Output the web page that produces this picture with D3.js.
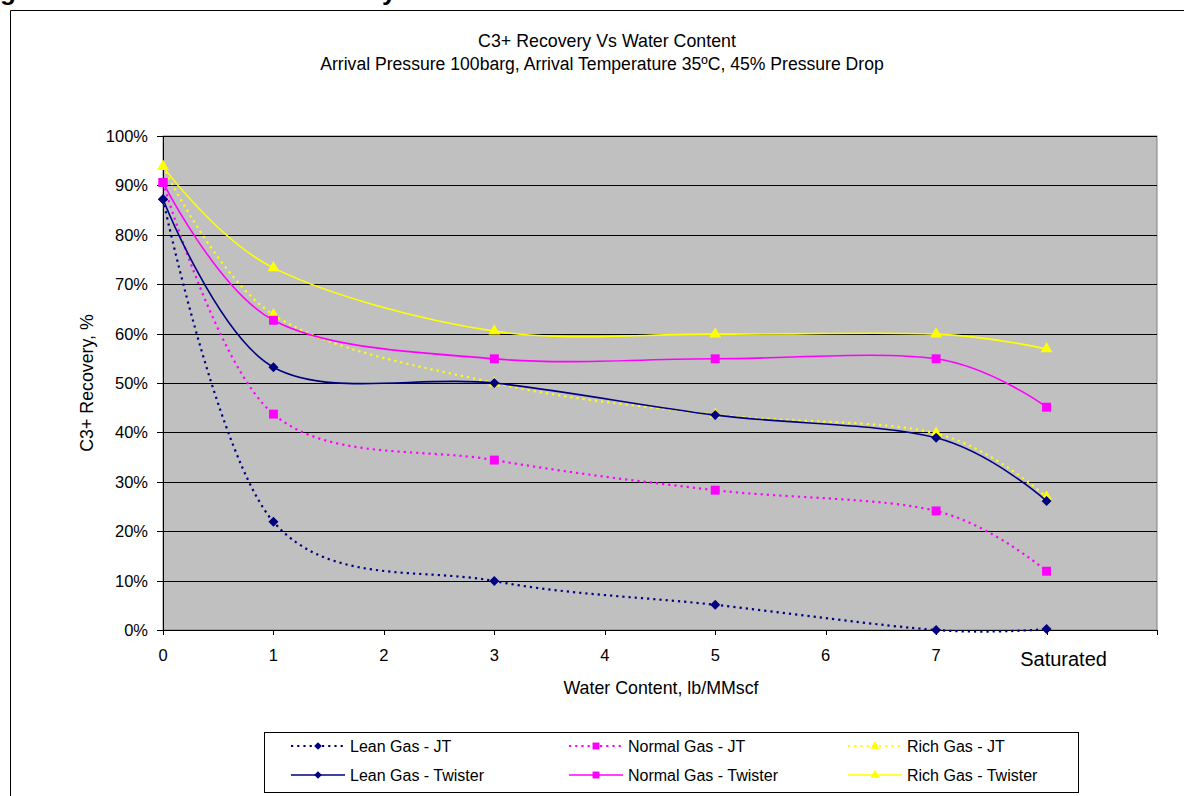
<!DOCTYPE html>
<html>
<head>
<meta charset="utf-8">
<script src="https://cdn.jsdelivr.net/npm/d3@7"></script>
<style>
    body { margin: 0; background: #fff; }
    svg { display: block; font-family: Arial, "Liberation Sans", sans-serif; }
    .grid line { stroke: #000; stroke-width: 1; }
    .ticklabel { font-size: 16.5px; fill: #000; }
</style>
</head>
<body>
<svg id="chart" width="1184" height="796"></svg>
<script>
    // x positions on the category axis (Saturated sits at 8)
    const xValues = [0, 1, 3, 5, 7, 8];
    const xTickLabels = ["0", "1", "2", "3", "4", "5", "6", "7", "Saturated"];
    const yTicks = [0, 10, 20, 30, 40, 50, 60, 70, 80, 90, 100];

    // C3+ recovery, %
    const leanJT = [87.2, 21.9, 9.9, 5.1, 0.0, 0.2];
    const normalJT = [90.6, 43.7, 34.4, 28.3, 24.1, 11.9];
    const richJT = [93.8, 63.8, 50.0, 43.6, 39.8, 26.9];
    const leanTwister = [87.2, 53.2, 50.0, 43.5, 38.9, 26.1];
    const normalTwister = [90.6, 62.7, 54.9, 54.9, 54.9, 45.1];
    const richTwister = [93.8, 73.3, 60.5, 59.9, 59.9, 56.9];

    const seriesNames = [
        "Lean Gas - JT", "Normal Gas - JT", "Rich Gas - JT",
        "Lean Gas - Twister", "Normal Gas - Twister", "Rich Gas - Twister"
    ];

    // Excel style diamond: a square turned 45 degrees
    const excelDiamond = {
        draw(context, size) {
            const r = Math.sqrt(size / 2);
            context.moveTo(0, -r);
            context.lineTo(r, 0);
            context.lineTo(0, r);
            context.lineTo(-r, 0);
            context.closePath();
        }
    };

    const navy = "#000080", magenta = "#FF00FF", yellow = "#FFFF00";
    const series = [
        { name: seriesNames[0], values: leanJT, color: navy, dotted: true, symbol: excelDiamond, size: 50 },
        { name: seriesNames[1], values: normalJT, color: magenta, dotted: true, symbol: d3.symbolSquare, size: 80 },
        { name: seriesNames[2], values: richJT, color: yellow, dotted: true, symbol: d3.symbolTriangle, size: 60 },
        { name: seriesNames[3], values: leanTwister, color: navy, dotted: false, symbol: excelDiamond, size: 50 },
        { name: seriesNames[4], values: normalTwister, color: magenta, dotted: false, symbol: d3.symbolSquare, size: 80 },
        { name: seriesNames[5], values: richTwister, color: yellow, dotted: false, symbol: d3.symbolTriangle, size: 60 }
    ];

    const svg = d3.select("#chart");
    const plotLeft = 163, plotRight = 1157, plotTop = 136, plotBottom = 630;

    const x = d3.scaleLinear().domain([0, 9]).range([plotLeft, plotRight]);
    const y = d3.scaleLinear().domain([0, 100]).range([plotBottom, plotTop]);

    // heading of the page above the chart, cut off by the crop
    svg.append("text").attr("x", 0).attr("y", 0)
        .attr("font-size", 26).attr("font-weight", "bold").text("g");
    svg.append("text").attr("x", 382).attr("y", 0)
        .attr("font-size", 26).attr("font-weight", "bold").text("y");

    // outer chart frame
    svg.append("path")
        .attr("d", "M10.5,796 V10.5 H1184")
        .attr("fill", "none").attr("stroke", "#000").attr("stroke-width", 1);

    // titles
    svg.append("text").attr("x", 607).attr("y", 47)
        .attr("text-anchor", "middle").attr("font-size", 17.8)
        .text("C3+ Recovery Vs Water Content");
    svg.append("text").attr("x", 602).attr("y", 70)
        .attr("text-anchor", "middle").attr("font-size", 17.6)
        .text("Arrival Pressure 100barg, Arrival Temperature 35ºC, 45% Pressure Drop");

    // plot area
    svg.append("rect")
        .attr("x", plotLeft).attr("y", plotTop)
        .attr("width", plotRight - plotLeft).attr("height", plotBottom - plotTop)
        .attr("fill", "#C0C0C0").attr("stroke", "#808080");

    svg.append("g").attr("class", "grid")
        .selectAll("line").data(yTicks).join("line")
        .attr("x1", plotLeft - 6).attr("x2", plotRight)
        .attr("y1", d => Math.round(y(d)) + 0.5)
        .attr("y2", d => Math.round(y(d)) + 0.5);

    svg.append("g").selectAll("text").data(yTicks).join("text")
        .attr("class", "ticklabel")
        .attr("x", 148).attr("y", d => y(d) + 6)
        .attr("text-anchor", "end")
        .text(d => d + "%");

    // axes lines
    svg.append("line").attr("x1", plotLeft + 0.5).attr("x2", plotLeft + 0.5)
        .attr("y1", plotTop).attr("y2", plotBottom).attr("stroke", "#000");
    svg.append("g").selectAll("line").data(d3.range(0, 10)).join("line")
        .attr("x1", d => Math.round(x(d)) + 0.5).attr("x2", d => Math.round(x(d)) + 0.5)
        .attr("y1", plotBottom).attr("y2", plotBottom + 5).attr("stroke", "#000");

    svg.append("g").selectAll("text").data(xTickLabels).join("text")
        .attr("x", (d, i) => i === 8 ? x(i) + 17 : x(i))
        .attr("y", (d, i) => i === 8 ? 666 : 661)
        .attr("text-anchor", "middle")
        .attr("font-size", (d, i) => i === 8 ? 20 : 16.5)
        .text(d => d);

    // axis titles
    svg.append("text").attr("x", 661).attr("y", 694)
        .attr("text-anchor", "middle").attr("font-size", 17.8)
        .text("Water Content, lb/MMscf");
    svg.append("text")
        .attr("transform", "translate(93,383) rotate(-90)")
        .attr("text-anchor", "middle").attr("font-size", 17.8)
        .text("C3+ Recovery, %");

    // series
    const line = d3.line()
        .x((d, i) => x(xValues[i]))
        .y(d => y(d))
        .curve(d3.curveCardinal.tension(0));

    const plot = svg.append("g");
    series.forEach(s => {
        plot.append("path")
            .attr("d", line(s.values))
            .attr("fill", "none")
            .attr("stroke", s.color)
            .attr("stroke-width", s.dotted ? 2.2 : 1.6)
            .attr("stroke-dasharray", s.dotted ? "2.2,4" : null);
        plot.selectAll(null).data(s.values).join("path")
            .attr("transform", (d, i) => `translate(${x(xValues[i])},${y(d)})`)
            .attr("d", d3.symbol().type(s.symbol).size(s.size))
            .attr("fill", s.color);
    });

    // legend
    const legend = svg.append("g");
    legend.append("rect")
        .attr("x", 264.5).attr("y", 732.5).attr("width", 814).attr("height", 60)
        .attr("fill", "#fff").attr("stroke", "#000");
    const colX = [291, 569, 848];
    const rowY = [746, 775];
    series.forEach((s, i) => {
        const cx = colX[i % 3], cy = rowY[Math.floor(i / 3)];
        const g = legend.append("g");
        g.append("line")
            .attr("x1", cx).attr("x2", cx + 54).attr("y1", cy).attr("y2", cy)
            .attr("stroke", s.color)
            .attr("stroke-width", s.dotted ? 2.2 : 1.6)
            .attr("stroke-dasharray", s.dotted ? "2.2,4" : null);
        g.append("path")
            .attr("transform", `translate(${cx + 27},${cy})`)
            .attr("d", d3.symbol().type(s.symbol).size(s.size * 0.6))
            .attr("fill", s.color);
        g.append("text")
            .attr("x", cx + 59).attr("y", cy + 6)
            .attr("font-size", 16)
            .text(s.name);
    });
</script>
</body>
</html>
